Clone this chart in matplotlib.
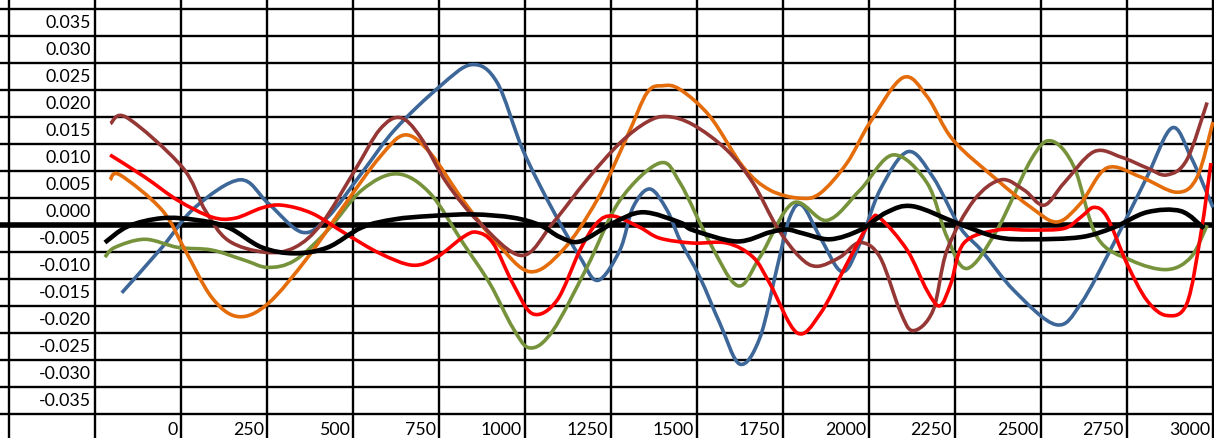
import numpy as np
import matplotlib
matplotlib.use("Agg")
import matplotlib.pyplot as plt
from matplotlib.path import Path
from matplotlib.patches import PathPatch

# axis labels
x_ticks = [0, 250, 500, 750, 1000, 1250, 1500, 1750, 2000, 2250, 2500, 2750, 3000]
y_ticks = [0.035, 0.030, 0.025, 0.020, 0.015, 0.010, 0.005, 0.000,
           -0.005, -0.010, -0.015, -0.020, -0.025, -0.030, -0.035]

# series values (x, y)
brown_x = [-205, -157, 3, 70, 137, 244, 331, 410, 506, 578, 637, 695, 773, 869, 991,
           1081, 1180, 1276, 1355, 1413, 1488, 1587, 1663, 1733, 1799, 1849, 1916, 1974,
           2032, 2090, 2128, 2186, 2227, 2305, 2384, 2451, 2509, 2567, 2654, 2733, 2808,
           2866, 2924, 2983]
brown_y = [0.0188, 0.0199, 0.0108, 0.0028, -0.0028, -0.0050, -0.0041, 0.0004, 0.0102,
           0.0177, 0.0199, 0.0164, 0.0078, 0.0004, -0.0056, 0.0004, 0.0084, 0.0152, 0.0191,
           0.0201, 0.0186, 0.0139, 0.0078, -0.0004, -0.0059, -0.0076, -0.0059, -0.0032,
           -0.0059, -0.0158, -0.0195, -0.0158, -0.0046, 0.0046, 0.0084, 0.0065, 0.0037,
           0.0078, 0.0136, 0.0126, 0.0106, 0.0093, 0.0121, 0.0227]

orange_x = [-206, -177, -55, 12, 90, 166, 253, 369, 485, 578, 651, 724, 820, 919, 1015,
            1110, 1209, 1297, 1355, 1401, 1451, 1538, 1634, 1712, 1799, 1858, 1936, 2003,
            2099, 2169, 2244, 2372, 2471, 2547, 2616, 2692, 2791, 2895, 2954, 3000]
orange_y = [0.0084, 0.0093, 0.0028, -0.0046, -0.0134, -0.0169, -0.0145, -0.0059, 0.0046,
            0.0126, 0.0167, 0.0134, 0.0046, -0.0033, -0.0086, -0.0046, 0.0046, 0.0164,
            0.0245, 0.0258, 0.0251, 0.0201, 0.0108, 0.0065, 0.0050, 0.0059, 0.0115, 0.0190,
            0.0273, 0.0238, 0.0158, 0.0084, 0.0033, 0.0006, 0.0041, 0.0106, 0.0089, 0.0061,
            0.0089, 0.0191]

blue_x = [-172, -55, 41, 172, 253, 352, 427, 526, 622, 753, 846, 919, 994, 1081, 1160,
          1212, 1276, 1314, 1363, 1413, 1451, 1509, 1567, 1625, 1683, 1733, 1770, 1805,
          1858, 1922, 1974, 2032, 2113, 2186, 2265, 2326, 2422, 2544, 2616, 2712, 2808,
          2881, 2936, 3000]
blue_y = [-0.0125, -0.0041, 0.0033, 0.0084, 0.0041, -0.0013, 0.0015, 0.0097, 0.0177,
          0.0257, 0.0297, 0.0264, 0.0139, 0.0028, -0.0059, -0.0102, -0.0046, 0.0033, 0.0067,
          0.0028, -0.0028, -0.0097, -0.0182, -0.0257, -0.0208, -0.0078, 0.0015, 0.0037,
          -0.0022, -0.0086, -0.0033, 0.0065, 0.0136, 0.0089, -0.0004, -0.0046, -0.0121,
          -0.0184, -0.0145, -0.0033, 0.0089, 0.0180, 0.0126, 0.0033]

green_x = [-221, -192, -105, -9, 90, 186, 253, 331, 427, 526, 628, 724, 820, 898, 965,
           1015, 1081, 1180, 1276, 1392, 1451, 1538, 1619, 1683, 1779, 1878, 1974, 2070,
           2169, 2227, 2285, 2372, 2471, 2529, 2596, 2663, 2762, 2866, 2936, 2983]
green_y = [-0.0059, -0.0041, -0.0026, -0.0041, -0.0046, -0.0065, -0.0078, -0.0065,
           -0.0009, 0.0065, 0.0095, 0.0059, -0.0033, -0.0108, -0.0190, -0.0227, -0.0195,
           -0.0078, 0.0046, 0.0115, 0.0078, -0.0033, -0.0112, -0.0059, 0.0041, 0.0009,
           0.0065, 0.0130, 0.0078, -0.0022, -0.0080, -0.0009, 0.0121, 0.0156, 0.0108,
           -0.0022, -0.0065, -0.0082, -0.0059, 0.0000]

red_x = [-206, -105, -9, 90, 157, 235, 294, 381, 477, 578, 674, 744, 820, 860, 907, 965,
         1023, 1093, 1160, 1209, 1256, 1334, 1392, 1488, 1587, 1663, 1712, 1791, 1858,
         1936, 2003, 2032, 2111, 2169, 2206, 2238, 2276, 2372, 2471, 2567, 2616, 2654,
         2692, 2750, 2808, 2866, 2924, 2965, 2994]
red_y = [0.0130, 0.0089, 0.0046, 0.0015, 0.0013, 0.0032, 0.0037, 0.0022, -0.0015, -0.0052,
         -0.0074, -0.0059, -0.0022, -0.0013, -0.0033, -0.0108, -0.0164, -0.0139, -0.0046,
         0.0004, 0.0017, -0.0004, -0.0024, -0.0033, -0.0033, -0.0059, -0.0108, -0.0199,
         -0.0164, -0.0071, 0.0006, 0.0013, -0.0046, -0.0121, -0.0149, -0.0108, -0.0033,
         -0.0009, -0.0009, -0.0006, 0.0015, 0.0033, 0.0015, -0.0071, -0.0139, -0.0167,
         -0.0145, -0.0015, 0.0115]

black_x = [-221, -154, -55, 41, 137, 235, 331, 427, 526, 622, 724, 849, 965, 1044, 1102,
           1160, 1256, 1343, 1451, 1488, 1616, 1712, 1762, 1808, 1887, 1974, 2052, 2128,
           2256, 2372, 2471, 2616, 2712, 2808, 2907, 2974]
black_y = [-0.0032, -0.0002, 0.0013, 0.0010, -0.0004, -0.0041, -0.0052, -0.0041, -0.0004,
           0.0011, 0.0017, 0.0020, 0.0014, 0.0000, -0.0022, -0.0030, 0.0004, 0.0024, 0.0005,
           -0.0009, -0.0030, -0.0013, -0.0008, -0.0015, -0.0026, -0.0009, 0.0024, 0.0035,
           0.0004, -0.0022, -0.0026, -0.0022, -0.0004, 0.0024, 0.0026, -0.0006]


def smooth_path(xs, ys):
    # excel-like smoothed line: catmull-rom segments as cubic beziers
    pts = np.column_stack([xs, ys]).astype(float)
    n = len(pts)
    verts = [pts[0]]
    codes = [Path.MOVETO]
    for i in range(n - 1):
        p0 = pts[max(i - 1, 0)]
        p1 = pts[i]
        p2 = pts[i + 1]
        p3 = pts[min(i + 2, n - 1)]
        verts += [p1 + (p2 - p0) / 6, p2 - (p3 - p1) / 6, p2]
        codes += [Path.CURVE4] * 3
    return Path(verts, codes)


plt.rcParams['font.family'] = ['Lato', 'DejaVu Sans']

fig = plt.figure(figsize=(12.14, 4.38), dpi=100)
ax = fig.add_axes([0, 0, 1, 1])
ax.set_xlim(-526, 3003)
ax.set_ylim(-0.03935, 0.04165)
ax.axis('off')

# table-like grid
for gx in [-500, -250] + x_ticks:
    ax.axvline(gx, color='black', lw=1.7, zorder=1)
for gy in [0.040] + y_ticks:
    ax.axhline(gy, color='black', lw=4.0 if gy == 0 else 1.7, zorder=1)

series = [
    (blue_x, blue_y, '#3d6798', 2.6),
    (green_x, green_y, '#76933c', 2.6),
    (orange_x, orange_y, '#e46c0a', 2.6),
    (brown_x, brown_y, '#953735', 2.6),
    (red_x, red_y, '#ff0000', 2.6),
    (black_x, black_y, '#000000', 3.3),
]
for xs, ys, col, lw in series:
    ax.add_patch(PathPatch(smooth_path(xs, ys), fill=False, edgecolor=col,
                           lw=lw, capstyle='butt', joinstyle='round', zorder=3))

for v in y_ticks:
    ax.annotate(f"{v:.3f}", (-250, v), xytext=(-4, 13), textcoords='offset pixels',
                ha='right', va='center', fontsize=12.8)
for t in x_ticks:
    ax.annotate(str(t), (t, -0.035), xytext=(-3, -16), textcoords='offset pixels',
                ha='right', va='center', fontsize=12.8)

fig.savefig('out.png', dpi=100)
